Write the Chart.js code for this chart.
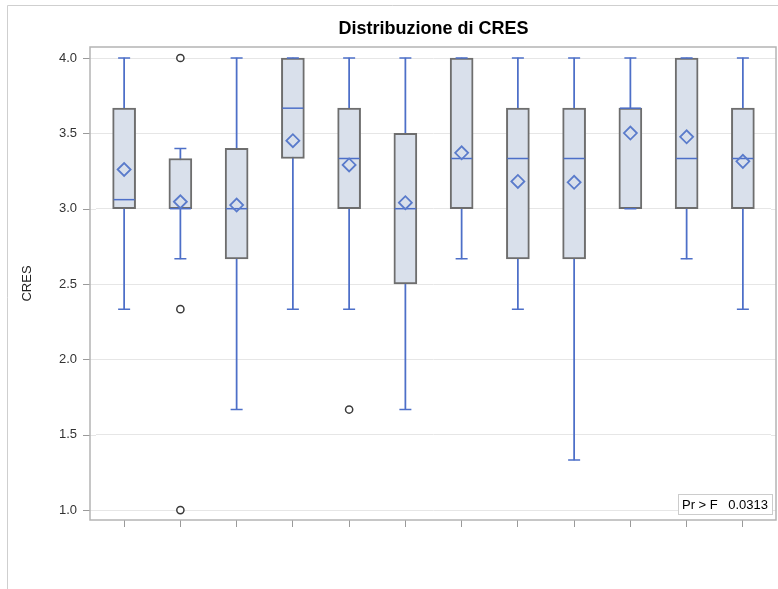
<!DOCTYPE html>
<html>
<head>
<meta charset="utf-8">
<script src="https://cdn.jsdelivr.net/npm/chart.js@4.4.1/dist/chart.umd.min.js"></script>
<style>
  html, body { margin: 0; padding: 0; background: #fff; }
  #wrap { width: 778px; height: 589px; }
</style>
</head>
<body>
<div id="wrap"><canvas id="c" width="778" height="589"></canvas></div>
<script>
// group labels are not readable in the source, so they stay hidden
const groups = ['G1', 'G2', 'G3', 'G4', 'G5', 'G6', 'G7', 'G8', 'G9', 'G10', 'G11', 'G12'];
const q1 = [3.0, 3.0, 2.667, 3.333, 3.0, 2.5, 3.0, 2.667, 2.667, 3.0, 3.0, 3.0];
const q3 = [3.667, 3.333, 3.4, 4.0, 3.667, 3.5, 4.0, 3.667, 3.667, 3.667, 4.0, 3.667];
const medians = [3.06, 3.0, 3.0, 3.667, 3.333, 3.0, 3.333, 3.333, 3.333, 3.667, 3.333, 3.333];
const whiskLow = [2.333, 2.667, 1.667, 2.333, 2.333, 1.667, 2.667, 2.333, 1.333, 3.0, 2.667, 2.333];
const whiskHigh = [4.0, 3.4, 4.0, 4.0, 4.0, 4.0, 4.0, 4.0, 4.0, 4.0, 4.0, 4.0];
const means = [3.26, 3.046, 3.024, 3.451, 3.29, 3.04, 3.371, 3.181, 3.175, 3.502, 3.477, 3.314];
const outlierGroups = ['G2', 'G2', 'G2', 'G5'];
const outlierValues = [4.0, 2.333, 1.0, 1.667];
const yTicks = [1.0, 1.5, 2.0, 2.5, 3.0, 3.5, 4.0];
const pValue = '0.0313';

const FONT = "'Liberation Sans', Arial, sans-serif";
const BLUE = '#4d6fc8';

const framePlugin = {
  id: 'frame',
  beforeDraw(chart) {
    const ctx = chart.ctx;
    ctx.save();
    ctx.strokeStyle = '#cfcfcf';
    ctx.lineWidth = 1;
    ctx.beginPath();
    ctx.moveTo(7.5, 589);
    ctx.lineTo(7.5, 5.5);
    ctx.lineTo(778, 5.5);
    ctx.stroke();
    ctx.restore();
  },
  beforeDatasetsDraw(chart) {
    const {ctx, chartArea: ca, scales: {y}} = chart;
    const fl = ca.left - 6, fr = ca.right + 5;
    ctx.save();
    ctx.lineWidth = 1;
    y.ticks.forEach(t => {
      const py = Math.round(y.getPixelForValue(t.value)) + 0.5;
      ctx.strokeStyle = '#e6e6e6';
      ctx.beginPath();
      ctx.moveTo(fl, py); ctx.lineTo(ca.left, py);
      ctx.moveTo(ca.right, py); ctx.lineTo(fr, py);
      ctx.stroke();
      ctx.strokeStyle = '#9a9a9a';
      ctx.beginPath();
      ctx.moveTo(fl - 7, py); ctx.lineTo(fl, py);
      ctx.stroke();
    });
    ctx.strokeStyle = '#b4b4b4';
    ctx.lineWidth = 1.5;
    ctx.strokeRect(fl, ca.top, fr - fl, ca.bottom - ca.top);
    ctx.restore();
  },
  afterDraw(chart) {
    const {ctx, chartArea: ca} = chart;
    const w = 94, h = 20;
    const x = ca.right + 1 - w, yb = ca.bottom - 6;
    ctx.save();
    ctx.fillStyle = '#fff';
    ctx.fillRect(x, yb - h, w, h);
    ctx.strokeStyle = '#cccccc';
    ctx.lineWidth = 1;
    ctx.strokeRect(x + 0.5, yb - h + 0.5, w, h);
    ctx.fillStyle = '#000';
    ctx.font = '13px ' + FONT;
    ctx.textBaseline = 'middle';
    ctx.textAlign = 'left';
    ctx.fillText('Pr > F', x + 4, yb - h / 2 + 1);
    ctx.textAlign = 'right';
    ctx.fillText(pValue, x + w - 4, yb - h / 2 + 1);
    ctx.restore();
  }
};

new Chart(document.getElementById('c'), {
  type: 'bar',
  data: {
    labels: groups,
    datasets: [
      {
        type: 'line', label: 'Outlier', showLine: false, order: 0,
        data: outlierGroups.map((g, i) => ({x: g, y: outlierValues[i]})),
        pointStyle: 'circle', pointRadius: 3.6, pointBorderWidth: 1.5,
        pointBorderColor: '#3a3a3a', pointBackgroundColor: '#fff'
      },
      {
        type: 'line', label: 'Media', showLine: false, order: 1,
        data: means,
        pointStyle: 'rectRot', pointRadius: 6.5, pointBorderWidth: 1.8,
        pointBorderColor: '#5a7bcb', pointBackgroundColor: 'rgba(0,0,0,0)'
      },
      {
        type: 'line', label: 'Mediana', showLine: false, order: 2,
        data: medians,
        pointStyle: 'line', pointRadius: 10.5, pointBorderWidth: 1.5,
        pointBorderColor: BLUE
      },
      {
        type: 'line', label: 'Max', showLine: false, order: 3,
        data: whiskHigh,
        pointStyle: 'line', pointRadius: 6, pointBorderWidth: 1.5,
        pointBorderColor: BLUE
      },
      {
        type: 'line', label: 'Min', showLine: false, order: 3,
        data: whiskLow,
        pointStyle: 'line', pointRadius: 6, pointBorderWidth: 1.5,
        pointBorderColor: BLUE
      },
      {
        label: 'Box', order: 4, grouped: false,
        data: groups.map((g, i) => [q1[i], q3[i]]),
        backgroundColor: '#d9e0eb', borderColor: '#6e6e6e',
        borderWidth: 2, borderSkipped: false, barThickness: 23
      },
      {
        label: 'Baffi', order: 5, grouped: false,
        data: groups.map((g, i) => [whiskLow[i], whiskHigh[i]]),
        backgroundColor: BLUE, borderWidth: 0, barThickness: 1.1
      }
    ]
  },
  options: {
    responsive: false,
    animation: false,
    events: [],
    layout: { autoPadding: false, padding: { left: 0, right: 7, top: 0, bottom: 0 } },
    plugins: {
      legend: { display: false },
      tooltip: { enabled: false },
      title: {
        display: true,
        text: 'Distribuzione di CRES',
        fullSize: false,
        color: '#000',
        font: { family: FONT, size: 18, weight: 'bold' },
        padding: { top: 18, bottom: 7.4 }
      }
    },
    scales: {
      x: {
        type: 'category',
        offset: true,
        border: { display: false },
        grid: { drawOnChartArea: false, drawTicks: true, tickLength: 7, tickColor: '#9a9a9a', offset: false },
        ticks: { display: false },
        afterFit: s => { s.height = 69; }
      },
      y: {
        min: 0.934,
        max: 4.073,
        border: { display: false },
        grid: { color: '#e6e6e6', drawTicks: false },
        afterBuildTicks: s => { s.ticks = yTicks.map(v => ({value: v})); },
        ticks: {
          padding: 19,
          color: '#333',
          font: { family: FONT, size: 13 },
          callback: v => Number(v).toFixed(1)
        },
        title: {
          display: true,
          text: 'CRES',
          color: '#222',
          font: { family: FONT, size: 13 },
          padding: { top: 20, bottom: 0 }
        },
        afterFit: s => { s.width = 96; }
      }
    }
  },
  plugins: [framePlugin]
});
</script>
</body>
</html>
